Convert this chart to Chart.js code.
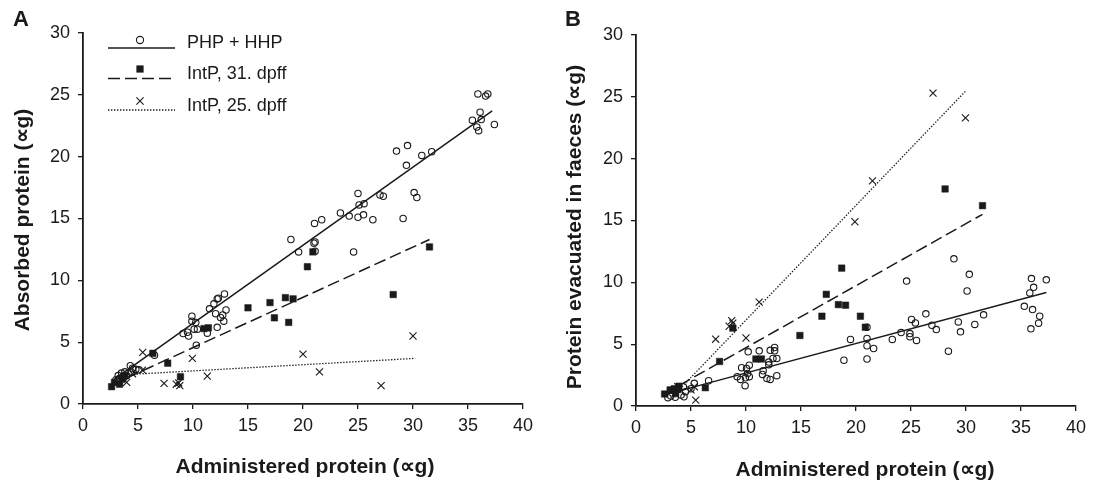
<!DOCTYPE html>
<html>
<head>
<meta charset="utf-8">
<script src="https://cdn.jsdelivr.net/npm/chart.js@4.4.1/dist/chart.umd.min.js"></script>
<style>
html,body{margin:0;padding:0;background:#fff;}
#wrap{position:relative;width:1095px;height:481px;overflow:hidden;background:#fff;}
canvas{position:absolute;top:0;}
#cA{left:0;}
#cB{left:548px;}
</style>
</head>
<body>
<div id="wrap">
<canvas id="cA" width="547" height="481" style="width:547px;height:481px"></canvas>
<canvas id="cB" width="547" height="481" style="width:547px;height:481px"></canvas>
</div>
<script>
const FONT = "'Liberation Sans', Arial, Helvetica, sans-serif";
const INK = '#1a1a1a';

const seriesLabels = ['PHP + HHP', 'IntP, 31. dpff', 'IntP, 25. dpff'];
const xTitle = 'Administered protein (\u221Dg)';
const yTitleA = 'Absorbed protein (\u221Dg)';
const yTitleB = 'Protein evacuated in faeces (\u221Dg)';
const xTickMin = 0, xTickMax = 40, yTickMin = 0, yTickMax = 30, tickStep = 5;

// ---------- Panel A: absorbed protein ----------
const aPhpX = [35.9,36.8,36.6,36.1,35.4,36.2,35.8,35.97,37.4,28.5,29.5,30.8,31.7,29.4,25.0,27.0,27.3,30.1,30.35,25.1,25.55,23.4,24.2,25.0,25.5,26.35,29.1,21.05,21.7,18.9,21.1,21.0,19.6,21.1,24.6,9.9,9.9,10.25,9.1,9.5,9.6,10.1,10.4,10.3,11.3,11.5,11.9,12.2,12.3,12.06,12.7,12.8,12.86,13.0,12.2,12.5,6.5,3.2,3.5,3.8,4.3,4.8,4.4,3.3,3.97,5.1,3.0,4.5];
const aPhpY = [25.07,25.07,24.9,23.6,22.95,23.0,22.4,22.1,22.6,20.45,20.9,20.1,20.4,19.3,17.03,16.9,16.8,17.1,16.7,16.1,16.2,15.45,15.2,15.1,15.3,14.9,15.0,14.6,14.9,13.3,13.1,13.0,12.3,12.35,12.3,7.1,6.7,6.6,5.7,5.8,5.5,6.05,6.05,4.76,5.73,7.7,8.1,8.5,8.55,7.3,7.2,6.7,8.9,7.6,6.2,7.0,3.95,2.3,2.5,2.6,3.1,2.8,2.55,2.07,2.29,2.77,1.96,2.9];
const aInt31X = [31.5,20.9,20.4,28.2,15.0,17.0,18.4,19.1,17.4,18.7,11.0,11.4,6.35,7.7,8.86,2.6,2.86,3.33,3.55,3.8,3.65];
const aInt31Y = [12.7,12.3,11.1,8.85,7.78,8.2,8.6,8.5,6.97,6.6,6.1,6.16,4.1,3.3,2.2,1.4,1.75,1.6,2.0,2.3,2.15];
const aInt25X = [30.0,20.0,21.5,27.1,5.43,9.94,11.3,7.37,8.48,8.8,8.7,5.4,3.97,4.5];
const aInt25Y = [5.5,4.03,2.6,1.48,4.17,3.69,2.26,1.67,1.6,1.48,1.7,2.74,1.75,2.45];
// regression line end points (panel A)
const aPhpLineX = [2.86, 37.2],  aPhpLineY = [2.02, 23.7];
const aInt31LineX = [2.6, 31.5], aInt31LineY = [1.55, 13.3];
const aInt25LineX = [3.5, 30.2], aInt25LineY = [2.35, 3.69];

// ---------- Panel B: protein evacuated in faeces ----------
const bPhpX = [37.3,35.95,36.15,35.8,35.3,36.05,36.7,36.6,35.9,31.6,28.9,30.3,30.1,29.3,29.5,30.8,28.4,24.6,26.35,26.9,27.3,25.05,25.4,24.9,24.9,25.5,24.1,23.3,19.5,21.0,21.0,21.6,21.0,18.9,21.0,10.2,11.2,12.2,12.6,12.8,12.45,12.6,12.07,12.07,11.56,11.5,11.9,12.2,12.8,10.3,10.05,9.6,9.2,9.5,9.95,10.3,9.92,10.14,6.6,3.16,3.57,4.1,4.36,4.5,4.3,5.0,5.3,2.9,3.26];
const bPhpY = [10.2,10.3,9.6,9.14,8.06,7.8,7.26,6.7,6.24,7.37,11.9,10.65,9.3,6.8,6.0,6.6,4.43,10.1,7.45,6.53,6.18,7.0,6.72,5.86,5.6,5.3,5.94,5.38,5.38,5.46,4.87,4.65,3.8,3.7,6.37,4.38,4.46,4.5,4.73,3.84,3.84,4.46,3.55,3.33,2.85,2.55,2.23,2.15,2.45,3.3,3.04,3.1,2.37,2.15,2.28,2.37,1.64,2.63,2.04,0.8,0.7,0.89,0.75,1.16,1.56,1.4,1.83,0.67,1.3];
const bInt31X = [28.1,31.5,18.7,17.3,18.4,19.05,16.9,20.4,20.85,14.9,8.8,10.9,11.4,7.6,6.3,2.6,3.1,3.5,3.8,3.6,3.9];
const bInt31Y = [17.55,16.2,11.15,9.03,8.2,8.15,7.26,7.26,6.37,5.7,6.3,3.8,3.8,3.6,1.48,0.97,1.3,1.4,1.34,1.0,1.6];
const bInt25X = [27.0,29.95,21.5,19.9,11.2,8.7,8.8,8.47,10.0,7.24,5.43,5.3,5.0,3.8];
const bInt25Y = [25.3,23.3,18.2,14.9,8.4,6.9,6.7,6.45,5.5,5.4,0.48,1.56,1.3,1.56];
// regression line end points (panel B)
const bPhpLineX = [2.9, 37.3],   bPhpLineY = [0.98, 9.17];
const bInt31LineX = [2.6, 31.5], bInt31LineY = [1.0, 15.5];
const bInt25LineX = [3.8, 30.0], bInt25LineY = [1.2, 25.5];

function pts(xs, ys) { return xs.map((x, i) => ({x: x, y: ys[i]})); }

const markerStyles = [
  {pointStyle: 'circle',   radius: 3.2, bg: 'rgba(255,255,255,0)', bw: 1.1},
  {pointStyle: 'rect',     radius: 4.6, bg: INK, bw: 0.5},
  {pointStyle: 'crossRot', radius: 5.0, bg: INK, bw: 1.1}
];
const lineStyles = [
  {dash: [], width: 1.5},
  {dash: [12, 5], width: 1.5},
  {dash: [1.4, 1.6], width: 1.3}
];

function buildDatasets(pointPairs, linePairs) {
  const ds = [];
  linePairs.forEach((p, i) => {
    ds.push({
      type: 'line', label: seriesLabels[i] + ' fit', data: pts(p[0], p[1]),
      borderColor: INK, borderWidth: lineStyles[i].width, borderDash: lineStyles[i].dash,
      pointRadius: 0, pointHoverRadius: 0, fill: false, tension: 0, order: 2
    });
  });
  pointPairs.forEach((p, i) => {
    const m = markerStyles[i];
    ds.push({
      type: 'scatter', label: seriesLabels[i], data: pts(p[0], p[1]),
      pointStyle: m.pointStyle, pointRadius: m.radius, pointHoverRadius: m.radius,
      backgroundColor: m.bg, borderColor: INK, pointBorderWidth: m.bw, borderWidth: m.bw,
      showLine: false, order: 1
    });
  });
  return ds;
}

const decor = {
  id: 'decor',
  afterDraw(chart, args, o) {
    const ctx = chart.ctx;
    ctx.save();
    ctx.fillStyle = INK;
    ctx.strokeStyle = INK;
    ctx.textAlign = 'center';
    ctx.textBaseline = 'middle';
    ctx.font = 'bold 22px ' + FONT;
    ctx.fillText(o.letter, o.letterX, o.letterY);
    ctx.font = 'bold 21px ' + FONT;
    ctx.fillText(o.xTitle, o.xTitleX, o.xTitleY);
    ctx.save();
    ctx.translate(o.yTitleX, o.yTitleY);
    ctx.rotate(-Math.PI / 2);
    ctx.fillText(o.yTitle, 0, 0);
    ctx.restore();
    if (o.legend) {
      const lx0 = 108, lx1 = 175, mx = 140, tx = 187;
      const lineY = [48, 78.5, 110];
      const markY = [40, 69, 101];
      const textY = [48, 79, 110.5];
      ctx.font = '18px ' + FONT;
      ctx.textAlign = 'left';
      ctx.textBaseline = 'alphabetic';
      for (let i = 0; i < 3; i++) {
        ctx.save();
        ctx.lineWidth = lineStyles[i].width;
        ctx.setLineDash(lineStyles[i].dash);
        ctx.beginPath();
        ctx.moveTo(lx0, lineY[i]);
        ctx.lineTo(lx1, lineY[i]);
        ctx.stroke();
        ctx.restore();
        ctx.save();
        ctx.lineWidth = 1.1;
        ctx.beginPath();
        if (i === 0) {
          ctx.arc(mx, markY[i], 3.6, 0, Math.PI * 2);
          ctx.stroke();
        } else if (i === 1) {
          ctx.fillRect(mx - 3.6, markY[i] - 3.6, 7.2, 7.2);
        } else {
          ctx.moveTo(mx - 3.6, markY[i] - 3.6); ctx.lineTo(mx + 3.6, markY[i] + 3.6);
          ctx.moveTo(mx + 3.6, markY[i] - 3.6); ctx.lineTo(mx - 3.6, markY[i] + 3.6);
          ctx.stroke();
        }
        ctx.restore();
        ctx.fillText(seriesLabels[i], tx, textY[i]);
      }
    }
    ctx.restore();
  }
};

function makeChart(id, datasets, box, deco) {
  return new Chart(document.getElementById(id), {
    type: 'scatter',
    data: {datasets: datasets},
    options: {
      responsive: false,
      animation: false,
      devicePixelRatio: 1,
      layout: {padding: {left: 0, top: box.top, right: box.right, bottom: 0}},
      plugins: {legend: {display: false}, tooltip: {enabled: false}, title: {display: false}, decor: deco},
      scales: {
        x: {
          type: 'linear', min: xTickMin, max: xTickMax,
          ticks: {stepSize: tickStep, color: INK, font: {family: FONT, size: 18}, padding: 6, maxRotation: 0, autoSkip: false},
          grid: {display: true, drawOnChartArea: false, drawTicks: true, tickLength: 5, color: INK, lineWidth: 1.3},
          border: {display: true, color: INK, width: 1.8},
          afterFit: s => { s.height = box.xh; }
        },
        y: {
          type: 'linear', min: yTickMin, max: yTickMax,
          ticks: {stepSize: tickStep, color: INK, font: {family: FONT, size: 18}, padding: 8, autoSkip: false},
          grid: {display: true, drawOnChartArea: false, drawTicks: true, tickLength: 5, color: INK, lineWidth: 1.3},
          border: {display: true, color: INK, width: 1.8},
          afterFit: s => { s.width = box.yw; }
        }
      }
    },
    plugins: [decor]
  });
}

makeChart('cA',
  buildDatasets([[aPhpX, aPhpY], [aInt31X, aInt31Y], [aInt25X, aInt25Y]],
                [[aPhpLineX, aPhpLineY], [aInt31LineX, aInt31LineY], [aInt25LineX, aInt25LineY]]),
  {top: 33, right: 24, xh: 77, yw: 83},
  {letter: 'A', letterX: 21, letterY: 20, xTitle: xTitle, xTitleX: 305, xTitleY: 467,
   yTitle: yTitleA, yTitleX: 23, yTitleY: 220, legend: true});

makeChart('cB',
  buildDatasets([[bPhpX, bPhpY], [bInt31X, bInt31Y], [bInt25X, bInt25Y]],
                [[bPhpLineX, bPhpLineY], [bInt31LineX, bInt31LineY], [bInt25LineX, bInt25LineY]]),
  {top: 35, right: 19, xh: 75, yw: 88},
  {letter: 'B', letterX: 25, letterY: 20, xTitle: xTitle, xTitleX: 317, xTitleY: 470,
   yTitle: yTitleB, yTitleX: 27, yTitleY: 227, legend: false});
</script>
</body>
</html>
